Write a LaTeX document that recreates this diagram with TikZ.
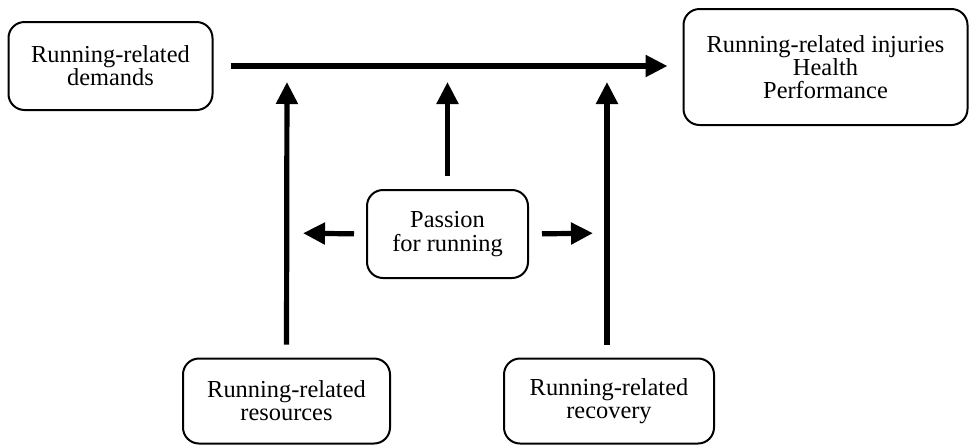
\documentclass[tikz,border=0pt]{standalone}
\usepackage{fontspec}
\setmainfont{Liberation Serif}
\usepackage{tikz}
\usetikzlibrary{arrows.meta, positioning, calc}

\begin{document}
\begin{tikzpicture}[x=0.5pt, y=-0.5pt,
    box/.style={draw, line width=1pt, rounded corners=8pt, align=center,
        font=\fontsize{12.2}{11.6}\selectfont, inner sep=0pt},
    arr/.style={line width=2.6pt, -{Triangle[length=11pt, width=10.5pt]}}]
    \useasboundingbox (0,0) rectangle (970,446);

    % Nodes
    \node[box, minimum width=102pt, minimum height=44pt] (demands) at (110.5,66) {Running-related\\demands};
    \node[box, minimum width=142pt, minimum height=58pt] (outcomes) at (825.5,67) {Running-related injuries\\Health\\Performance};
    \node[box, minimum width=80.5pt, minimum height=44pt] (passion) at (447.5,234) {Passion\\for running};
    \node[box, minimum width=103.5pt, minimum height=42.5pt] (resources) at (286.5,401) {Running-related\\resources};
    \node[box, minimum width=105pt, minimum height=42.5pt] (recovery) at (609,401) {Running-related\\recovery};

    % Points on the connectors
    \coordinate (leftjoin) at (287,67);
    \coordinate (midjoin) at (447.5,67);
    \coordinate (rightjoin) at (607,67);
    \coordinate (leftline) at (287,233);
    \coordinate (rightline) at (607,233);

    % Arrows
    \draw[arr, shorten <=8.5pt, shorten >=7.5pt] (demands.east) -- (outcomes.west |- demands.east);
    \draw[arr, shorten <=6.5pt, shorten >=7.5pt] (resources.north) -- (leftjoin);
    \draw[arr, shorten <=6.5pt, shorten >=7.5pt] (recovery.north -| rightjoin) -- (rightjoin);
    \draw[arr, shorten <=6.5pt, shorten >=7.5pt] (passion.north) -- (midjoin);
    \draw[arr, shorten <=6pt, shorten >=8pt] (passion.west) -- (leftline);
    \draw[arr, shorten <=6.5pt, shorten >=7pt] (passion.east) -- (rightline);
\end{tikzpicture}
\end{document}
